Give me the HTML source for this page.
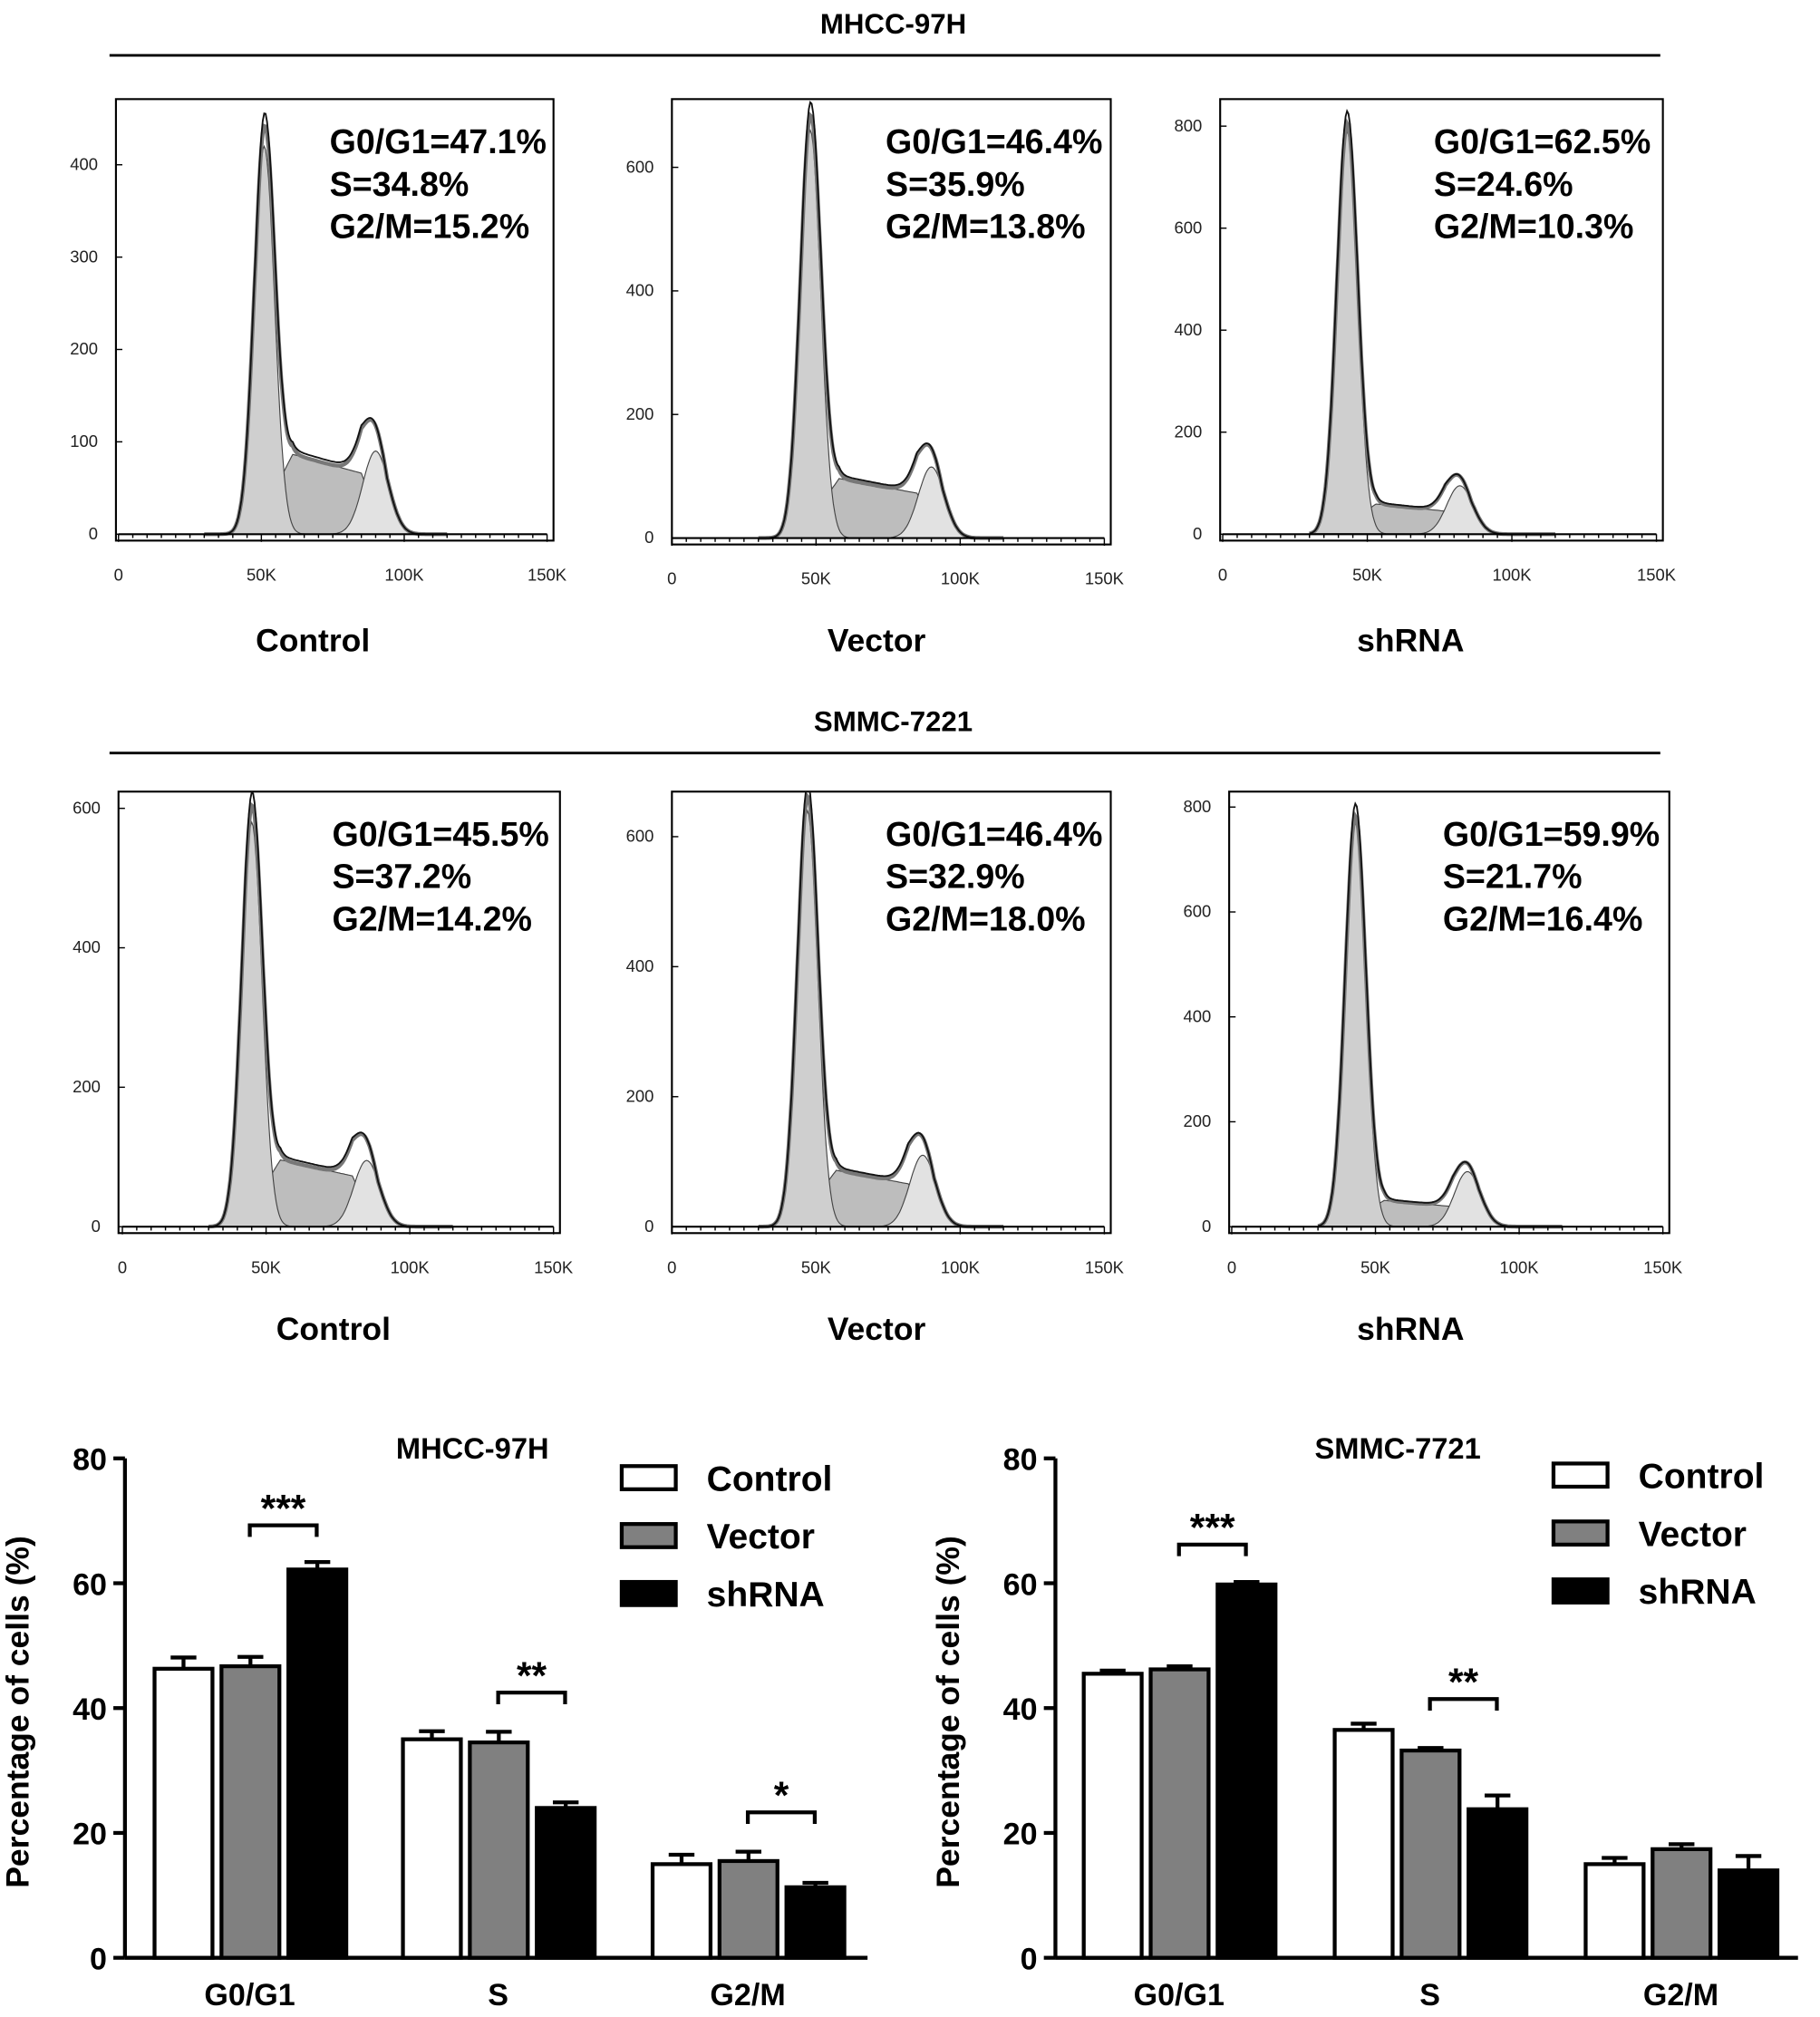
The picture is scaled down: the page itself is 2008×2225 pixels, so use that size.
<!DOCTYPE html>
<html><head><meta charset="utf-8"><style>
html,body{margin:0;padding:0;background:#fff}
svg{display:block}
text{font-family:"Liberation Sans",Arial,sans-serif}
</style></head><body>
<svg id="s" xmlns="http://www.w3.org/2000/svg" width="2008" height="2225" viewBox="0 0 1414 1567">
<rect width="1414" height="1567" fill="#fff"/>
<g id="g"></g>
</svg>
<script>
// ---- Histogram data (peak positions in K, heights in counts) ----
const histLabels = ["Control","Vector","shRNA","Control","Vector","shRNA"];
const histG1Pos = [51,48,43,45,47,43];
const histG1Height = [420,660,790,580,640,770];
const histSHeight = [95,105,65,105,95,55];
const histG2Pos = [90,90,82,85,87,82];
const histG2Height = [90,115,95,95,110,105];
const histYTicks = [[0,100,200,300,400],[0,200,400,600],[0,200,400,600,800],[0,200,400,600],[0,200,400,600],[0,200,400,600,800]];
const histText = [["G0/G1=47.1%","S=34.8%","G2/M=15.2%"],["G0/G1=46.4%","S=35.9%","G2/M=13.8%"],["G0/G1=62.5%","S=24.6%","G2/M=10.3%"],
["G0/G1=45.5%","S=37.2%","G2/M=14.2%"],["G0/G1=46.4%","S=32.9%","G2/M=18.0%"],["G0/G1=59.9%","S=21.7%","G2/M=16.4%"]];
const xTickLabels = ["0","50K","100K","150K"];
// ---- Bar chart data ----
const barCategories = ["G0/G1","S","G2/M"];
const barSeries = ["Control","Vector","shRNA"];
const leftValues = [[46.3,46.7,62.2],[35,34.5,24],[15,15.5,11.3]];
const leftErrors = [[1.8,1.5,1.2],[1.3,1.7,0.9],[1.5,1.5,0.7]];
const rightValues = [[45.5,46.2,59.8],[36.5,33.2,23.8],[15,17.4,14]];
const rightErrors = [[0.5,0.5,0.4],[1,0.4,2.2],[1,0.8,2.3]];
const yTicksBar = [0,20,40,60,80];

const NS="http://www.w3.org/2000/svg", G=document.getElementById('g');
function el(t,a,p){const e=document.createElementNS(NS,t);for(const k in a)e.setAttribute(k,a[k]);(p||G).appendChild(e);return e;}
function tx(x,y,s,a,p){const e=el('text',Object.assign({x:x,y:y},a),p);e.textContent=s;return e;}

[[18,"MHCC-97H",43],[560,"SMMC-7221",585]].forEach((d,i)=>{
 const t=tx(694,d[0]+8,d[1],{'font-size':22,'font-weight':'bold','text-anchor':'middle'});
 
 
 const l=el('line',{x1:85,x2:1290,y1:d[2],y2:d[2],stroke:'#000','stroke-width':2});
 
 
});

const panels=[
 {bx:90,by:77,bw:340,x0:92,x1:425,y0:415,ymaxY:128,ymaxV:400,lx:243,ly:498},
 {bx:522,by:77,bw:341,x0:522,x1:858,y0:418,ymaxY:130,ymaxV:600,lx:681,ly:498},
 {bx:948,by:77,bw:344,x0:950,x1:1287,y0:415,ymaxY:98,ymaxV:800,lx:1096,ly:498},
 {bx:92,by:615,bw:343,x0:95,x1:430,y0:953,ymaxY:628,ymaxV:600,lx:259,ly:1033},
 {bx:522,by:615,bw:341,x0:522,x1:858,y0:953,ymaxY:650,ymaxV:600,lx:681,ly:1033},
 {bx:955,by:615,bw:342,x0:957,x1:1292,y0:953,ymaxY:627,ymaxV:800,lx:1096,ly:1033}];

function gauss(x,m,s){return Math.exp(-0.5*((x-m)/s)**2);}
panels.forEach((P,i)=>{
 const g=el('g',{});
 
 
 const sx=v=>P.x0+(P.x1-P.x0)*v/150;
 const sy=v=>P.y0-(P.y0-P.ymaxY)*v/P.ymaxV;
 const cid='c'+i;
 const cp=el('clipPath',{id:cid},g);
 el('rect',{x:P.bx,y:P.by,width:P.bw,height:P.y0-P.by+5},cp);
 el('rect',{x:P.bx,y:P.by,width:P.bw,height:P.y0-P.by+5,fill:'none',stroke:'#000','stroke-width':1.5},g);
 const cg=el('g',{'clip-path':'url(#'+cid+')'},g);
 const g1=x=>histG1Height[i]*gauss(x,histG1Pos[i],3.6);
 const g2=x=>histG2Height[i]*gauss(x,histG2Pos[i],4.5);
 const sp=x=>{const a=histG1Pos[i],b=histG2Pos[i];if(x<a-3||x>b+4)return 0;
   const u=(x-a)/(b-a);return histSHeight[i]*Math.min(1,(x-a+3)/13)*Math.min(1,(b+4-x)/9)*(1-0.35*u);};
 function path(f){let d='';for(let x=30;x<=115;x+=0.5){d+=(d?'L':'M')+sx(x).toFixed(1)+','+sy(f(x)).toFixed(1);}return d;}
 el('path',{d:path(sp)+'Z',fill:'#bdbdbd',stroke:'#444','stroke-width':0.8},cg);
 el('path',{d:path(g2)+'Z',fill:'#e2e2e2',stroke:'#444','stroke-width':0.8},cg);
 el('path',{d:path(g1)+'Z',fill:'#cfcfcf',stroke:'#444','stroke-width':0.8},cg);
 el('path',{d:path(x=>g1(x)+g2(x)+sp(x)),fill:'none',stroke:'#777','stroke-width':3},cg);
 el('path',{d:path(x=>g1(x)*1.03+g2(x)+sp(x)*1.05),fill:'none',stroke:'#111','stroke-width':1.3},cg);
 el('line',{x1:P.x0,x2:P.x1,y1:P.y0,y2:P.y0,stroke:'#000','stroke-width':1.5},g);
 for(let k=0;k<=30;k++){const x=sx(k*5);el('line',{x1:x,x2:x,y1:P.y0,y2:P.y0+(k%10==0?6:3),stroke:'#000'},g);}
 xTickLabels.forEach((t,k)=>tx(sx(k*50),P.y0+36,t,{'font-size':13,'text-anchor':'middle',fill:'#222'},g));
 histYTicks[i].forEach(v=>{const y=sy(v);el('line',{x1:P.bx,x2:P.bx+5,y1:y,y2:y,stroke:'#000'},g);
  tx(P.bx-14,y+4,String(v),{'font-size':13,'text-anchor':'end',fill:'#222'},g);});
 histText[i].forEach((t,k)=>tx(P.bx+166,P.by+42+k*33,t,{'font-size':26.5,'font-weight':'bold'},g));
 tx(P.lx,P.ly+8,histLabels[i],{'font-size':25,'font-weight':'bold','text-anchor':'middle'},g);
});

const fills=['#fff','#808080','#000'];
function barChart(ax,groupX,vals,errs,title,titleX,legX,legY,sigs,name){
 const g=el('g',{});
 
 
 const y0=1521,yTop=1133,sy=v=>y0-(y0-yTop)*v/80;
 el('line',{x1:ax,x2:ax,y1:yTop,y2:y0,stroke:'#000','stroke-width':3},g);
 el('line',{x1:ax,x2:ax+577,y1:y0,y2:y0,stroke:'#000','stroke-width':3},g);
 yTicksBar.forEach(v=>{const y=sy(v);el('line',{x1:ax-9,x2:ax,y1:y,y2:y,stroke:'#000','stroke-width':3},g);
  tx(ax-14,y+9,String(v),{'font-size':24,'font-weight':'bold','text-anchor':'end'},g);});
 tx(0,0,'Percentage of cells (%)',{'font-size':25,'font-weight':'bold','text-anchor':'middle',transform:`translate(${ax-75},1330) rotate(-90)`},g);
 barCategories.forEach((c,ci)=>{
  barSeries.forEach((s,si)=>{
   const x=groupX[ci]+si*52,w=45,v=vals[ci][si],e=errs[ci][si];
   const r=el('rect',{x:x,y:sy(v),width:w,height:y0-sy(v),fill:fills[si],stroke:'#000','stroke-width':3},g);
   
   
   el('line',{x1:x+w/2,x2:x+w/2,y1:sy(v),y2:sy(v+e),stroke:'#000','stroke-width':3},g);
   el('line',{x1:x+w/2-10,x2:x+w/2+10,y1:sy(v+e),y2:sy(v+e),stroke:'#000','stroke-width':3},g);
  });
  tx(groupX[ci]+74,1558,c,{'font-size':24,'font-weight':'bold','text-anchor':'middle'},g);
 });
 sigs.forEach(sg=>{const ci=sg[0],x1=groupX[ci]+52+22,x2=groupX[ci]+104+22,y=sg[1];
  el('path',{d:`M${x1},${y+9}V${y}H${x2}V${y+9}`,fill:'none',stroke:'#000','stroke-width':3},g);
  tx((x1+x2)/2,y-3,sg[2],{'font-size':30,'font-weight':'bold','text-anchor':'middle'},g);});
 tx(titleX,1133,title,{'font-size':23,'font-weight':'bold','text-anchor':'middle'},g);
 barSeries.forEach((s,si)=>{const y=legY+si*45;
  el('rect',{x:legX,y:y-9,width:42,height:18,fill:fills[si],stroke:'#000','stroke-width':3},g);
  tx(legX+66,y+10,s,{'font-size':27.5,'font-weight':'bold'},g);});
}
barChart(97,[120,313,507],leftValues,leftErrors,'MHCC-97H',367,483,1148,[[0,1185,'***'],[1,1315,'**'],[2,1408,'*']],'bar-chart-mhcc97h');
barChart(820,[842,1037,1232],rightValues,rightErrors,'SMMC-7721',1086,1207,1146,[[0,1200,'***'],[1,1320,'**']],'bar-chart-smmc7721');
</script>
</body></html>
